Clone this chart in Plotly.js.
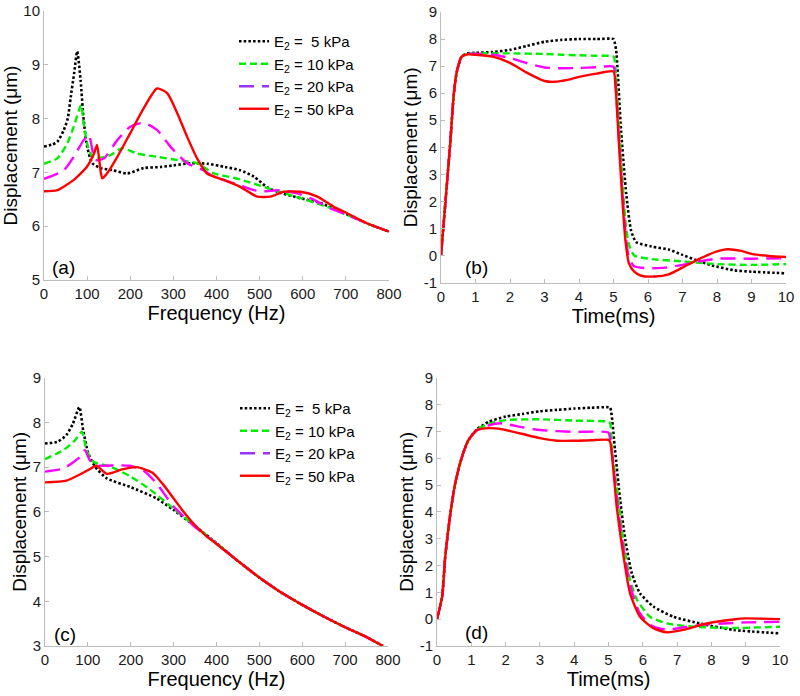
<!DOCTYPE html>
<html>
<head>
<meta charset="utf-8">
<script src="https://cdn.plot.ly/plotly-3.0.1.min.js"></script>
<style>html,body{margin:0;padding:0;background:#fff}#chart{width:800px;height:696px}</style>
</head>
<body>
<div id="chart"></div>
<script>
// ---------- Panel (a): frequency response ----------
const fA5  = [0,20,31,46,55,62,70,77,85,92,100,112,131,160,193,231,270,300,340,380,420,455,487,518,548,595,641,688,750,800];
const yA5  = [7.48,7.52,7.57,7.79,8.0,8.4,8.85,9.25,8.7,7.97,7.48,7.17,7.08,7.04,6.98,7.08,7.1,7.13,7.17,7.16,7.1,7.04,6.92,6.72,6.62,6.52,6.43,6.27,6.05,5.9];
const fA10 = [0,31,54,69,86,92,100,112,123,154,181,216,262,309,355,394,440,471,533,595,657,703,750,800];
const yA10 = [7.16,7.26,7.54,7.85,8.25,7.91,7.54,7.29,7.26,7.32,7.45,7.35,7.29,7.23,7.17,6.98,6.9,6.83,6.67,6.52,6.36,6.21,6.05,5.9];
const fA20 = [0,46,69,92,104,112,119,139,170,200,231,262,293,332,370,394,440,487,510,548,587,626,664,703,750,800];
const yA20 = [6.88,7.04,7.29,7.6,7.7,7.42,7.23,7.26,7.6,7.85,7.92,7.79,7.48,7.17,7.04,6.92,6.8,6.67,6.65,6.67,6.61,6.49,6.33,6.21,6.05,5.9];
const fA50 = [0,31,69,100,116,123,131,135,146,170,200,231,262,286,309,332,355,378,417,455,494,525,556,595,634,672,703,750,800];
const yA50 = [6.65,6.67,6.86,7.11,7.35,7.51,7.04,6.89,6.98,7.29,7.73,8.19,8.56,8.47,8.1,7.66,7.26,6.98,6.86,6.73,6.55,6.55,6.64,6.64,6.55,6.36,6.24,6.05,5.9];

// ---------- Panel (b): time response ----------
const tB5  = [0,0.13,0.27,0.37,0.46,0.6,0.75,1,1.5,2,2.5,3,3.5,4,4.5,5,5.03,5.08,5.22,5.37,5.51,5.66,6.1,6.6,7.0,7.5,7.85,8.5,9,10];
const yB5  = [0,2.0,4.2,5.95,6.8,7.35,7.47,7.49,7.52,7.6,7.75,7.9,7.97,8.0,8.0,8.0,7.9,7.55,4.6,2.27,0.92,0.49,0.33,0.22,0.02,-0.22,-0.37,-0.55,-0.6,-0.66];
const tB10 = [0,0.13,0.27,0.37,0.46,0.6,0.75,1,2,3,3.5,4,4.5,5,5.05,5.15,5.25,5.35,5.45,5.6,6,7,8,9,10];
const yB10 = [0,2.0,4.2,5.95,6.8,7.35,7.45,7.47,7.47,7.45,7.42,7.4,7.38,7.35,7.0,5.0,3.0,1.2,0.4,0.0,-0.12,-0.22,-0.32,-0.35,-0.32];
const tB20 = [0,0.13,0.27,0.37,0.46,0.6,0.75,1,1.5,2,2.5,3,3.5,4,4.5,5,5.05,5.15,5.25,5.35,5.45,5.6,6,6.5,7,7.5,8,9,10];
const yB20 = [0,2.0,4.2,5.95,6.8,7.35,7.45,7.46,7.42,7.3,7.1,6.95,6.92,6.93,6.96,6.98,6.5,4.5,2.5,0.8,-0.1,-0.4,-0.47,-0.45,-0.35,-0.22,-0.12,-0.12,-0.1];
const tB50 = [0,0.13,0.27,0.37,0.46,0.6,0.75,1,1.5,2,2.5,3,3.3,3.7,4,4.5,5,5.05,5.15,5.25,5.35,5.45,5.6,5.8,6.2,6.6,7,7.5,8,8.3,8.7,9,9.5,10];
const yB50 = [0,2.0,4.2,5.95,6.8,7.35,7.43,7.42,7.35,7.12,6.75,6.45,6.42,6.5,6.6,6.72,6.8,6.4,4.3,2.2,0.5,-0.3,-0.6,-0.75,-0.78,-0.7,-0.45,-0.12,0.15,0.23,0.17,0.06,-0.02,-0.06];

// ---------- Panel (c): frequency response ----------
const fC5  = [0,30,50,65,80,89,101,117,144,198,260,300,350,400,425,450,500,550,600,650,700,750,788];
const yC5  = [7.53,7.57,7.72,7.97,8.34,7.83,7.31,7.01,6.75,6.56,6.3,6.04,5.68,5.3,5.1,4.9,4.53,4.2,3.92,3.66,3.42,3.2,3.0];
const fC10 = [0,43,70,86,97,113,152,198,245,300,350,400,425,450,500,550,600,650,700,750,788];
const yC10 = [7.18,7.38,7.6,7.79,7.38,7.12,7.01,6.8,6.5,6.07,5.68,5.3,5.1,4.9,4.53,4.2,3.92,3.66,3.42,3.2,3.0];
const fC20 = [0,43,82,93,105,121,167,198,229,260,299,350,400,425,450,500,550,600,650,700,750,788];
const yC20 = [6.9,6.97,7.23,7.38,7.15,7.04,7.04,7.03,6.93,6.64,6.13,5.66,5.29,5.1,4.9,4.53,4.2,3.92,3.66,3.42,3.2,3.0];
const fC50 = [0,50,80,100,120,144,180,214,250,275,300,325,350,375,400,425,450,500,550,600,650,700,750,788];
const yC50 = [6.66,6.7,6.83,6.93,7.03,6.85,6.95,7.0,6.88,6.62,6.3,5.98,5.7,5.47,5.28,5.09,4.9,4.53,4.2,3.92,3.66,3.42,3.2,3.0];

// ---------- Panel (d): time response ----------
const tD5  = [0,0.15,0.24,0.39,0.53,0.73,0.92,1.17,1.5,2,2.5,3,3.5,4,4.5,5,5.05,5.19,5.34,5.49,5.68,5.92,6.31,6.89,7.67,8.64,10];
const yD5  = [0,0.84,2.33,3.94,5.06,6.06,6.68,7.08,7.35,7.55,7.65,7.75,7.8,7.85,7.88,7.9,7.88,6.3,4.44,2.95,1.71,0.96,0.47,0.09,-0.16,-0.4,-0.53];
const tD10 = [0,0.15,0.24,0.39,0.53,0.73,0.92,1.17,1.5,2,3,4,5,5.05,5.1,5.29,5.44,5.63,5.83,6.21,6.7,7.48,8.64,10];
const yD10 = [0,0.84,2.33,3.94,5.06,6.06,6.68,7.06,7.28,7.42,7.45,7.4,7.36,7.3,6.3,4.44,2.83,1.46,0.72,0.09,-0.16,-0.28,-0.33,-0.28];
const tD20 = [0,0.15,0.24,0.39,0.53,0.73,0.92,1.17,1.5,1.84,2.5,3,4,5,5.05,5.3,5.5,5.7,5.9,6.2,6.5,6.8,7.2,7.8,8.5,9,10];
const yD20 = [0,0.84,2.33,3.94,5.06,6.06,6.68,7.05,7.22,7.3,7.15,7.05,6.98,6.95,6.7,3.9,2.1,0.95,0.25,-0.2,-0.35,-0.38,-0.3,-0.2,-0.15,-0.12,-0.1];
const tD50 = [0,0.15,0.24,0.39,0.53,0.73,0.92,1.17,1.5,1.8,2,2.5,3,3.5,4,4.5,5,5.05,5.24,5.44,5.63,5.92,6.31,6.7,7.18,7.86,8.64,9,10];
const yD50 = [0,0.84,2.33,3.94,5.06,6.06,6.68,7.05,7.12,7.1,7.05,6.9,6.75,6.65,6.65,6.67,6.68,6.6,4.19,2.33,0.96,0.09,-0.34,-0.49,-0.4,-0.16,-0.01,0.03,0.0];

// ---------- labels ----------
const seriesNames = ['E<sub>2</sub> = \u00a05 kPa','E<sub>2</sub> = 10 kPa','E<sub>2</sub> = 20 kPa','E<sub>2</sub> = 50 kPa'];
const panelLabels = ['(a)','(b)','(c)','(d)'];
const freqTicks = [0,100,200,300,400,500,600,700,800];
const timeTicks = [0,1,2,3,4,5,6,7,8,9,10];

const styles = [
  {color:'#000000', dash:'2.5px,2.2px', width:2.6},
  {color:'#00ee00', dash:'7px,4px', width:2.4},
  {color:'#ff00ff', dash:'15px,8px', width:2.4},
  {color:'#ff0000', dash:'solid', width:2.4}
];
const legendColors = ['#000000','#00ee00','#9933ff','#ff0000'];

const panels = [
  {xs:[fA5,fA10,fA20,fA50], ys:[yA5,yA10,yA20,yA50], xa:'x', ya:'y', leg:'legend'},
  {xs:[tB5,tB10,tB20,tB50], ys:[yB5,yB10,yB20,yB50], xa:'x2', ya:'y2', leg:null},
  {xs:[fC5,fC10,fC20,fC50], ys:[yC5,yC10,yC20,yC50], xa:'x3', ya:'y3', leg:'legend2'},
  {xs:[tD5,tD10,tD20,tD50], ys:[yD5,yD10,yD20,yD50], xa:'x4', ya:'y4', leg:null}
];

const traces = [];
panels.forEach(p => {
  for (let i = 0; i < 4; i++) {
    traces.push({
      x: p.xs[i], y: p.ys[i], xaxis: p.xa, yaxis: p.ya, type:'scatter', mode:'lines',
      line: {color: styles[i].color, dash: styles[i].dash, width: styles[i].width, shape:'spline', smoothing:0.6},
      showlegend:false, hoverinfo:'skip'
    });
  }
  if (p.leg) {
    for (let i = 0; i < 4; i++) {
      traces.push({
        x:[null], y:[null], xaxis:p.xa, yaxis:p.ya, type:'scatter', mode:'lines', name: seriesNames[i],
        legend: p.leg, showlegend:true,
        line:{color: legendColors[i], dash: styles[i].dash, width: styles[i].width}
      });
    }
  }
});

const FONT = 'Arial, "Liberation Sans", sans-serif';
const H = 696, W = 800;
function xAx(domPx, range, ticks, title, anchor) {
  return {
    domain:[domPx[0]/W, domPx[1]/W], range: range, anchor: anchor,
    tickvals: ticks, ticktext: ticks.map(String),
    showline:true, linecolor:'#bdbdbd', linewidth:1, mirror:false,
    ticks:'inside', ticklen:4, tickcolor:'#bdbdbd', showgrid:false, zeroline:false,
    tickfont:{family:FONT, size:15, color:'#1a1a1a'},
    title:{text:title, font:{family:FONT, size:20, color:'#000'}, standoff:2}
  };
}
function yAx(domPx, range, ticks, anchor) {
  return {
    domain:[1-domPx[1]/H, 1-domPx[0]/H], range: range, anchor: anchor,
    tickvals: ticks, ticktext: ticks.map(String),
    showline:true, linecolor:'#bdbdbd', linewidth:1, mirror:false,
    ticks:'inside', ticklen:4, tickcolor:'#bdbdbd', showgrid:false, zeroline:false,
    tickfont:{family:FONT, size:15, color:'#1a1a1a'},
    title:{text:'Displacement (\u03bcm)', font:{family:FONT, size:19, color:'#000'}, standoff:1}
  };
}

const annFont = {family:FONT, size:19, color:'#000'};
const layout = {
  width: W, height: H,
  margin:{l:0,r:0,t:0,b:0},
  paper_bgcolor:'#fff', plot_bgcolor:'#fff',
  font:{family:FONT, color:'#000'},
  xaxis:  xAx([44,389],[0,800],freqTicks,'Frequency (Hz)','y'),
  yaxis:  yAx([11,280],[5,10],[5,6,7,8,9,10],'x'),
  xaxis2: xAx([441,786],[0,10],timeTicks,'Time(ms)','y2'),
  yaxis2: yAx([12,282.5],[-1,9],[-1,0,1,2,3,4,5,6,7,8,9],'x2'),
  xaxis3: xAx([45,388],[0,800],freqTicks,'Frequency (Hz)','y3'),
  yaxis3: yAx([377.7,646],[3,9],[3,4,5,6,7,8,9],'x3'),
  xaxis4: xAx([437,780],[0,10],timeTicks,'Time(ms)','y4'),
  yaxis4: yAx([377.7,646],[-1,9],[-1,0,1,2,3,4,5,6,7,8,9],'x4'),
  legend: {x:234/W, y:1-25/H, xanchor:'left', yanchor:'top', bgcolor:'rgba(0,0,0,0)',
           font:{family:FONT, size:15, color:'#000'}, tracegroupgap:0, itemwidth:30},
  legend2:{x:235/W, y:1-392/H, xanchor:'left', yanchor:'top', bgcolor:'rgba(0,0,0,0)',
           font:{family:FONT, size:15, color:'#000'}, tracegroupgap:0, itemwidth:30},
  annotations: [
    {xref:'paper', yref:'paper', x:63/W, y:1-267/H, xanchor:'center', yanchor:'middle', text:panelLabels[0], showarrow:false, font:annFont},
    {xref:'paper', yref:'paper', x:477/W, y:1-267/H, xanchor:'center', yanchor:'middle', text:panelLabels[1], showarrow:false, font:annFont},
    {xref:'paper', yref:'paper', x:65/W, y:1-634/H, xanchor:'center', yanchor:'middle', text:panelLabels[2], showarrow:false, font:annFont},
    {xref:'paper', yref:'paper', x:477/W, y:1-632/H, xanchor:'center', yanchor:'middle', text:panelLabels[3], showarrow:false, font:annFont}
  ]
};

Plotly.newPlot('chart', traces, layout, {staticPlot:true, displayModeBar:false});
</script>
</body>
</html>
